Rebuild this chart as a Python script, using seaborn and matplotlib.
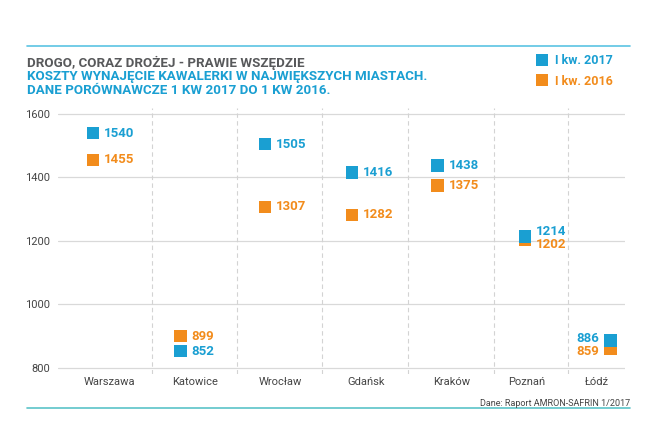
import matplotlib
matplotlib.use("Agg")
import matplotlib.pyplot as plt
import seaborn as sns
import pandas as pd
from matplotlib.lines import Line2D

# ---- data ----
cities = ["Warszawa", "Katowice", "Wrocław", "Gdańsk", "Kraków", "Poznań", "Łódź"]
q1_2017 = [1540, 852, 1505, 1416, 1438, 1214, 886]
q1_2016 = [1455, 899, 1307, 1282, 1375, 1202, 859]
series = ["I kw. 2017", "I kw. 2016"]
yticks = [800, 1000, 1200, 1400, 1600]

title = "DROGO, CORAZ DROŻEJ - PRAWIE WSZĘDZIE"
subtitle1 = "KOSZTY WYNAJĘCIE KAWALERKI W NAJWIĘKSZYCH MIASTACH."
subtitle2 = "DANE PORÓWNAWCZE 1 KW 2017 DO 1 KW 2016."
source = "Dane: Raport AMRON-SAFRIN 1/2017"

# ---- layout (positions on the x axis) ----
label_pos = [0.0, 1.0, 2.0, 3.0, 4.0, 4.88, 5.7]
marker_pos = [-0.19, 0.83, 1.82, 2.84, 3.84, 4.86, 5.86]
separators = [0.5, 1.49, 2.49, 3.49, 4.5, 5.36]
label_side = [1, 1, 1, 1, 1, 1, -1]

BLUE = "#1a9fd2"
ORANGE = "#f28c1c"
GRAY = "#58595b"

df = pd.DataFrame({
    "city": cities * 2,
    "x": marker_pos * 2,
    "value": q1_2016 + q1_2017,
    "series": [series[1]] * len(cities) + [series[0]] * len(cities),
})

sns.set_theme(style="white")
plt.rcParams["font.family"] = ["Roboto", "DejaVu Sans"]

fig = plt.figure(figsize=(6.64, 4.42), dpi=100)
ax = fig.add_axes([58 / 664, 1 - 374 / 442, (625 - 58) / 664, (374 - 108) / 442])

# orange first, blue on top
sns.scatterplot(data=df, x="x", y="value", hue="series",
                palette={series[0]: BLUE, series[1]: ORANGE},
                marker="s", s=80, linewidth=0, legend=False, ax=ax, zorder=3)

ax.set_xlim(-0.6, 6.03)
ax.set_ylim(780, 1619)
ax.set_yticks(yticks)
ax.set_yticklabels([str(t) for t in yticks], color="#444444", fontsize=8)
ax.set_xticks(label_pos)
ax.set_xticklabels(cities, color="#444444", fontsize=8)
ax.tick_params(axis="y", length=0, pad=6)
ax.tick_params(axis="x", length=0, pad=2)
ax.set_xlabel("")
ax.set_ylabel("")
for s in ax.spines.values():
    s.set_visible(False)
for t in yticks:
    ax.axhline(t, color="#d9d9d9", lw=0.9, zorder=1)
for sx in separators:
    ax.axvline(sx, color="#d3d3d3", lw=0.8, ls=(0, (4, 3)), zorder=1)

# data labels
min_sep = 41.0
for i, c in enumerate(cities):
    v17, v16 = q1_2017[i], q1_2016[i]
    y17, y16 = float(v17), float(v16)
    d = abs(v17 - v16)
    if d < min_sep:
        shift = (min_sep - d) / 2
        if v17 >= v16:
            y17 += shift; y16 -= shift
        else:
            y17 -= shift; y16 += shift
    side = label_side[i]
    for val, yy, col in [(v17, y17, BLUE), (v16, y16, ORANGE)]:
        ax.annotate(str(val), xy=(marker_pos[i], yy), xytext=(8 * side, 0),
                    textcoords="offset points", ha="left" if side > 0 else "right",
                    va="center", color=col, fontsize=9.5, fontweight="bold", zorder=4)

# titles
fig.text(27 / 664, 1 - 66.5 / 442, title, color=GRAY, fontsize=9.6, fontweight="bold", va="baseline")
fig.text(27 / 664, 1 - 80 / 442, subtitle1, color=BLUE, fontsize=9.6, fontweight="bold", va="baseline")
fig.text(27 / 664, 1 - 93.5 / 442, subtitle2, color=BLUE, fontsize=9.6, fontweight="bold", va="baseline")

# decorative rules
fig.add_artist(Line2D([27 / 664, 630 / 664], [1 - 46 / 442, 1 - 46 / 442], color="#5bc3e3", lw=1.2))
fig.add_artist(Line2D([27 / 664, 630 / 664], [1 - 408 / 442, 1 - 408 / 442], color="#5bc3c8", lw=1.2))

# legend
handles = [Line2D([], [], marker="s", color="none", markerfacecolor=BLUE, markeredgewidth=0, markersize=9),
           Line2D([], [], marker="s", color="none", markerfacecolor=ORANGE, markeredgewidth=0, markersize=9)]
leg = fig.legend(handles, series, loc="upper left", bbox_to_anchor=(524 / 664, 1 - 43 / 442),
                 frameon=False, handlelength=1.0, handletextpad=0.6, labelspacing=0.6,
                 prop={"weight": "bold", "size": 9})
for txt, col in zip(leg.get_texts(), [BLUE, ORANGE]):
    txt.set_color(col)

fig.text(630 / 664, 1 - 405.5 / 442, source, color="#444444", fontsize=6.5, ha="right", va="baseline")

fig.savefig("out.png", dpi=100)
